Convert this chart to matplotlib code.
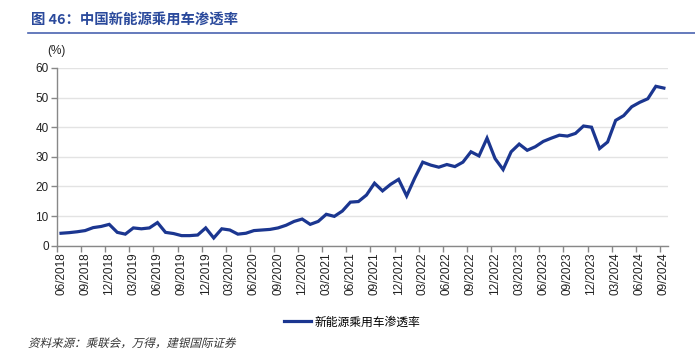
import matplotlib
matplotlib.use("Agg")
import matplotlib.pyplot as plt
from matplotlib.lines import Line2D
from matplotlib.textpath import TextPath
from matplotlib.patches import PathPatch
from matplotlib.font_manager import FontProperties
from matplotlib.transforms import Affine2D

plt.rcParams["font.family"] = ["Liberation Sans", "Noto Sans CJK SC", "DejaVu Sans"]

# monthly, 06/2018 .. 09/2024
months = [f"{(5 + k) % 12 + 1:02d}/{2018 + (5 + k) // 12}" for k in range(76)]
penetration = [
    4.2, 4.4, 4.7, 5.1, 6.1, 6.5, 7.2, 4.5, 3.9, 6.0, 5.7, 6.0,
    7.8, 4.5, 4.1, 3.4, 3.4, 3.6, 6.0, 2.6, 5.7, 5.3, 3.9, 4.2,
    5.1, 5.3, 5.5, 6.0, 6.9, 8.2, 9.0, 7.2, 8.2, 10.6, 9.9, 11.7,
    14.7, 14.9, 17.1, 21.1, 18.5, 20.7, 22.4, 16.8, 22.8, 28.2, 27.2, 26.5,
    27.4, 26.7, 28.2, 31.7, 30.3, 36.3, 29.4, 25.7, 31.7, 34.3, 32.2, 33.4,
    35.2, 36.3, 37.3, 37.0, 37.9, 40.4, 40.0, 32.8, 35.0, 42.3, 43.9, 46.9,
    48.4, 49.6, 53.8, 53.2,
]
series_name = "新能源乘用车渗透率"
title = "图 46：中国新能源乘用车渗透率"
source = "资料来源：乘联会，万得，建银国际证券"

line_color = "#1b3690"
blue_title = "#2b4a9c"
DPI = 100

fig = plt.figure(figsize=(6.95, 3.52), dpi=DPI)
ax = fig.add_axes([0.082, 0.302, 0.879, 0.505])

x = list(range(len(penetration)))
ax.plot(x, penetration, color=line_color, lw=2.3, solid_joinstyle="miter")

ax.set_xlim(-0.5, len(penetration) - 0.5)
ax.set_ylim(0, 60)
ax.set_yticks(range(0, 61, 10))
ax.yaxis.grid(True, color="#e3e3e3", lw=1)
ax.set_axisbelow(True)

ax.set_xticks(x[::3])
ax.set_xticklabels(months[::3], rotation=90)
ax.set_xticks([i - 0.5 for i in x[::3]], minor=True)
ax.tick_params(axis="x", which="major", length=0, pad=5, labelsize=8.5, colors="#222222")
ax.tick_params(axis="x", which="minor", length=4, width=1, color="#888888")
ax.tick_params(axis="y", length=4, width=1, color="#888888", labelsize=8.5, labelcolor="#222222", pad=2)

for side in ("top", "right"):
    ax.spines[side].set_visible(False)
for side in ("left", "bottom"):
    ax.spines[side].set_color("#888888")
    ax.spines[side].set_linewidth(1)

fig.text(0.068, 0.855, "(%)", fontsize=8.5, color="#222222", ha="left", va="center")

fig.text(0.044, 0.943, title, fontsize=10.4, fontweight="bold", color=blue_title,
         family=["Noto Sans CJK SC", "DejaVu Sans"], ha="left", va="center")
fig.add_artist(Line2D([0.040, 1.0], [0.906, 0.906], color="#4a64b0", lw=1.2))

handle = Line2D([], [], color=line_color, lw=2.3)
leg = fig.legend([handle], [series_name], loc="center", bbox_to_anchor=(0.507, 0.085),
                 frameon=False, handlelength=2.3, handletextpad=0.3,
                 prop={"family": ["Noto Sans CJK SC", "DejaVu Sans"], "size": 8.5})

# CJK fonts have no italic face, so slant the source line by hand
src_path = TextPath((0, 0), source, size=8.3, prop=FontProperties(family="Noto Sans CJK SC"))
src_tf = Affine2D().scale(DPI / 72).skew_deg(14, 0).translate(28, 5)
fig.add_artist(PathPatch(src_path, transform=src_tf, facecolor="#333333", edgecolor="none"))

fig.savefig("out.png", dpi=DPI)
plt.close(fig)
